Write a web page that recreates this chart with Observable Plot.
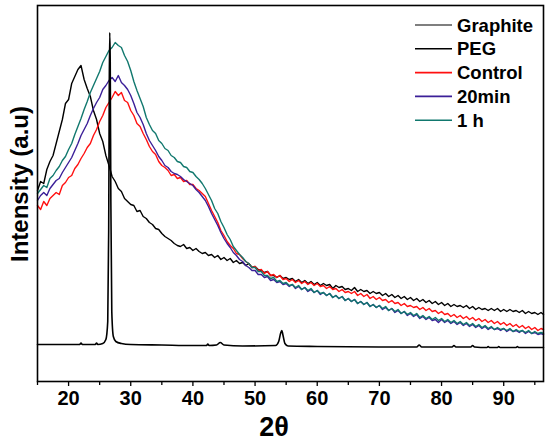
<!DOCTYPE html>
<html>
<head>
<meta charset="utf-8">
<script src="https://cdn.jsdelivr.net/npm/d3@7"></script>
<script src="https://cdn.jsdelivr.net/npm/@observablehq/plot@0.6"></script>
<style>
  html, body { margin: 0; padding: 0; background: #fff; }
  #chart svg { display: block; }
</style>
</head>
<body>
<div id="chart"></div>
<script>
// ---- Data (intensity in arbitrary units) ----
const angles = [
  15,15.5,16,16.5,17,17.5,18,18.5,19,19.5,
  20,20.5,21,21.5,22,22.5,23,23.5,24,24.5,25,25.5,26,26.5,27,27.5,28,28.5,29,29.5,
  30,30.5,31,31.5,32,32.5,33,33.5,34,34.5,35,35.5,36,36.5,37,37.5,38,38.5,39,39.5,
  40,40.5,41,41.5,42,42.5,43,43.5,44,44.5,45,45.5,46,46.5,47,47.5,48,48.5,49,49.5,
  50,50.5,51,51.5,52,52.5,53,53.5,54,54.5,55,55.5,56,56.5,57,57.5,58,58.5,59,59.5,
  60,60.5,61,61.5,62,62.5,63,63.5,64,64.5,65,65.5,66,66.5,67,67.5,68,68.5,69,69.5,
  70,70.5,71,71.5,72,72.5,73,73.5,74,74.5,75,75.5,76,76.5,77,77.5,78,78.5,79,79.5,
  80,80.5,81,81.5,82,82.5,83,83.5,84,84.5,85,85.5,86,86.5,87,87.5,88,88.5,89,89.5,
  90,90.5,91,91.5,92,92.5,93,93.5,94,94.5,95,95.5,96,
  96.4];

const peg = [
  191,200,198,212,220,226,238,250,262,278,
  282,298,305,312,316,302,293,285,271,262,248,240,226,216,205,200,193,190,183,180,
  177,176,170,171,165,163,159,157,153,152,148,145,143,141,138,136,135,137,133,134,
  131,133,130,128,129,126,127,124,126,122,124,121,123,119,121,118,119,116,118,114,
  115,112,111,109,110,106,106,104,106,103,104,102,103,100,102,99,101,98,100,97,
  99,96,98,96,97,93,96,94,95,92,93,91,94,90,92,90,91,88,90,88,
  89,86,88,85,87,84,86,83,85,82,84,81,83,80,82,79,81,78,80,77,
  79,76,78,75,77,75,76,74,76,73,75,72,74,72,73,71,73,71,73,70,
  72,70,72,70,71,69,71,68,70,68,69,67,69,
  67];

const control = [
  176,172,180,176,183,186,189,187,196,199,
  204,206,213,217,223,228,234,238,246,252,260,266,274,279,284,290,286,289,281,279,
  271,266,258,255,248,242,235,230,227,220,216,214,211,206,207,203,204,200,201,197,
  197,193,191,188,185,178,171,165,159,151,146,140,136,133,128,127,123,120,118,114,
  115,111,112,108,110,106,107,104,106,102,103,100,102,99,101,98,100,97,99,96,
  98,95,96,93,95,92,93,90,92,89,90,88,90,86,88,85,87,83,85,82,
  84,81,82,79,81,78,79,76,78,75,76,74,75,72,74,71,73,70,71,68,
  70,67,68,65,67,64,66,63,65,62,64,61,63,60,62,59,61,58,60,57,
  59,56,58,55,57,54,56,53,55,52,54,51,53,
  52];

const min20 = [
  181,186,189,186,193,197,201,203,209,214,
  219,224,231,238,246,252,258,266,273,279,284,292,296,301,304,300,306,299,296,292,
  286,278,269,264,257,248,241,236,231,225,221,216,214,210,208,207,205,202,200,198,
  196,192,189,185,181,175,168,162,156,149,143,138,134,129,126,122,120,116,114,111,
  111,107,107,104,105,101,102,99,100,97,98,95,97,93,95,92,94,90,92,89,
  91,87,89,86,88,84,86,83,85,81,83,80,82,78,80,77,79,75,77,74,
  76,72,74,71,73,69,71,68,70,66,68,65,67,63,65,62,64,61,62,59,
  62,59,61,58,60,57,59,56,58,55,57,54,56,53,55,52,54,52,53,51,
  53,50,52,50,51,49,51,48,50,48,49,47,48,
  47];

const h1 = [
  188,192,196,194,203,206,211,215,221,225,
  232,238,247,255,263,272,280,289,296,303,310,319,325,331,334,339,336,334,326,320,
  311,300,291,283,275,264,257,251,248,241,238,233,231,226,224,220,219,215,214,210,
  209,205,202,198,193,187,181,173,168,160,154,147,142,135,131,127,124,120,118,114,
  114,110,110,106,106,103,104,100,101,98,99,96,97,94,96,92,94,91,93,89,
  91,88,89,86,88,84,86,83,85,81,83,80,82,78,80,77,79,75,77,74,
  76,73,75,71,73,70,72,68,70,67,69,66,68,64,66,63,65,62,64,61,
  63,60,62,59,61,58,60,57,59,56,58,55,57,54,56,53,55,52,54,52,
  53,51,53,50,52,50,51,49,51,48,50,48,49,
  48];

const graphiteAngles = [15,20,21.8,22,22.2,24.3,24.5,24.7,25.5,26.0,26.3,26.45,26.55,26.62,26.7,26.8,26.95,27.2,27.6,28.5,30,35,40,
  42.2,42.4,42.6,43.8,44.4,45,48,53.3,53.8,54.1,54.3,54.5,54.8,55.3,60,70,76.0,76.4,76.8,81.7,82.0,82.3,
  84.7,85.0,85.3,87.3,87.5,87.7,89.0,89.2,89.4,92.0,92.2,92.4,96.4];
const graphite = [37,37,37,38.5,37,37,38.5,37,38,42,60,150,300,349,320,180,70,45,40,38,37,36.5,36,
  36,37.5,36,36.5,39,36.5,35.5,36,40,48,51,46,38,35.5,35,34.5,34.5,36.5,34.5,34.5,36,34.5,
  34.5,36,34.5,34,35,34,34,35,34,34,35,34,34];

const seriesNames = ["Graphite", "PEG", "Control", "20min", "1 h"];
const seriesColors = ["#000000", "#000000", "#ff1010", "#3b1f98", "#11786e"];
const xTicks = [20,30,40,50,60,70,80,90];
const xMinorTicks = [15,25,35,45,55,65,75,85,95];

// ---- Build tables ----
const toRows = (xs, ys, name) => xs.map((x, i) => ({angle: x, intensity: ys[i], series: name}));
const rowsGraphite = toRows(graphiteAngles, graphite, seriesNames[0]);
const rowsPeg = toRows(angles, peg, seriesNames[1]);
const rowsControl = toRows(angles, control, seriesNames[2]);
const rows20 = toRows(angles, min20, seriesNames[3]);
const rows1h = toRows(angles, h1, seriesNames[4]);

const FONT = "'Liberation Sans', Arial, Helvetica, sans-serif";

const chart = Plot.plot({
  width: 550,
  height: 443,
  marginLeft: 37,
  marginRight: 7,
  marginTop: 5,
  marginBottom: 62,
  style: {fontFamily: FONT, background: "#fff", overflow: "visible"},
  x: {domain: [15, 96.4]},
  y: {domain: [0, 376], axis: null},
  marks: [
    Plot.line(rowsPeg, {x: "angle", y: "intensity", stroke: seriesColors[1], strokeWidth: 1.4}),
    Plot.line(rowsControl, {x: "angle", y: "intensity", stroke: seriesColors[2], strokeWidth: 1.4}),
    Plot.line(rows20, {x: "angle", y: "intensity", stroke: seriesColors[3], strokeWidth: 1.4}),
    Plot.line(rows1h, {x: "angle", y: "intensity", stroke: seriesColors[4], strokeWidth: 1.4}),
    Plot.line(rowsGraphite, {x: "angle", y: "intensity", stroke: seriesColors[0], strokeWidth: 1.6, curve: "monotone-x"}),
    Plot.axisX(xMinorTicks, {tickSize: 4, text: null, strokeWidth: 1.3, label: null}),
    Plot.axisX(xTicks, {tickSize: 5, strokeWidth: 1.3, tickPadding: 4, label: null}),
    Plot.frame({stroke: "#000", strokeWidth: 1.6})
  ]
});

const svg = d3.select(chart);

// Bold, larger tick labels
svg.selectAll('g[aria-label="x-axis tick label"]')
  .attr("font-size", 20).attr("font-weight", "bold").attr("fill", "#000");
svg.selectAll('g[aria-label="x-axis tick label"] text')
  .style("font-size", "20px").style("font-weight", "bold").style("fill", "#000");

// Axis titles
svg.append("text")
  .attr("x", 274).attr("y", 427)
  .attr("text-anchor", "middle").attr("dominant-baseline", "central")
  .attr("font-family", FONT).attr("font-weight", "bold").attr("font-size", 27)
  .text("2θ");

svg.append("text")
  .attr("transform", "translate(19,184) rotate(-90)")
  .attr("text-anchor", "middle").attr("dominant-baseline", "central")
  .attr("font-family", FONT).attr("font-weight", "bold").attr("font-size", 24)
  .text("Intensity (a.u)");

// Legend inside the frame (top-right)
const legend = svg.append("g");
seriesNames.forEach((name, i) => {
  const y = 25 + i * 23.8;
  legend.append("line")
    .attr("x1", 415).attr("x2", 452).attr("y1", y).attr("y2", y)
    .attr("stroke", seriesColors[i]).attr("stroke-width", i === 0 ? 1.2 : 1.6);
  legend.append("text")
    .attr("x", 457).attr("y", y)
    .attr("text-anchor", "start")
    .attr("dominant-baseline", "central")
    .attr("font-family", FONT).attr("font-weight", "bold").attr("font-size", 18.5)
    .attr("fill", "#000")
    .text(name);
});

document.getElementById("chart").appendChild(chart);
</script>
</body>
</html>
